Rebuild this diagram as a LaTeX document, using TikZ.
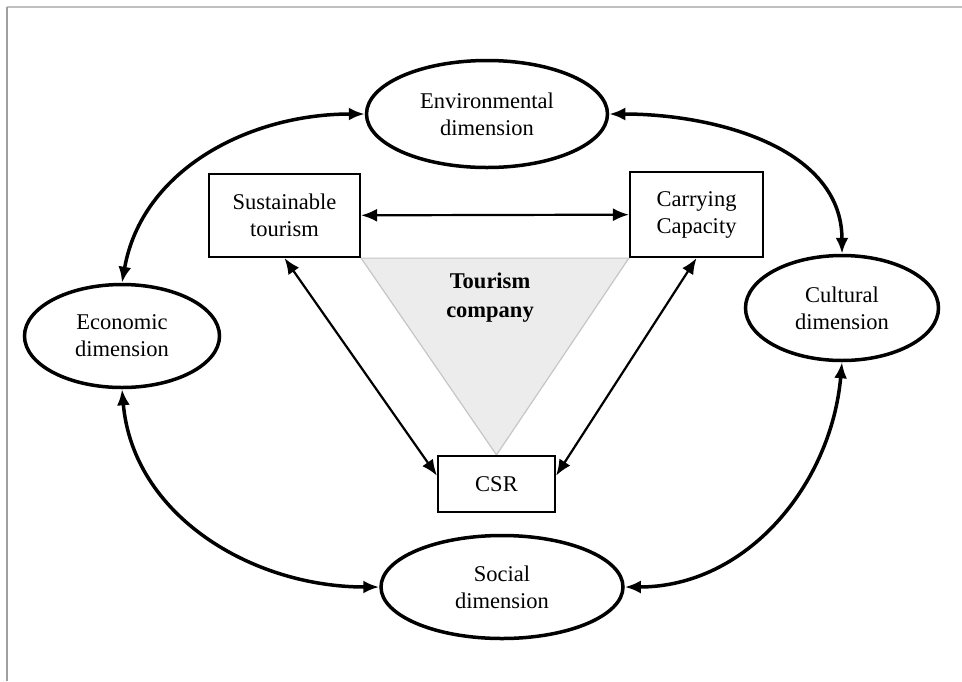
\documentclass[tikz,border=0pt]{standalone}
\usepackage{fontspec}
\setmainfont{Liberation Serif}
\usetikzlibrary{arrows.meta,shapes.geometric,backgrounds}

\begin{document}
\begin{tikzpicture}[x=1pt,y=-1pt,
                    >={Latex[length=16pt,width=13pt]},
                    font=\fontsize{22.5}{27}\selectfont,
                    dim node/.style={ellipse,draw,line width=3.5pt,align=center,inner sep=0pt},
                    box node/.style={rectangle,draw,line width=2.2pt,align=center,inner sep=0pt},
                    box link/.style={<->,line width=2.2pt},
                    dim link/.style={<->,line width=3.5pt}]
  \useasboundingbox (0,0) rectangle (962,681);
  % page frame
  \draw[gray!50,line width=2pt] (7,7) -- (962,7);
  \draw[gray!75,line width=2pt] (7,7) -- (7,681);

  \node[dim node,minimum width=241pt,minimum height=107pt] (env) at (487,114) {Environmental\\dimension};
  \node[dim node,minimum width=195pt,minimum height=103pt] (eco) at (122,336) {Economic\\dimension};
  \node[dim node,minimum width=193pt,minimum height=105pt] (cul) at (842,308) {Cultural\\dimension};
  \node[dim node,minimum width=242pt,minimum height=103pt] (soc) at (502,587) {Social\\dimension};

  \node[box node,minimum width=151pt,minimum height=83pt] (sus) at (284.5,215.5) {Sustainable\\tourism};
  \node[box node,minimum width=133pt,minimum height=85pt] (cap) at (696.5,214.5) {Carrying\\Capacity};
  \node[box node,minimum width=117pt,minimum height=56pt] (csr) at (496.5,484) {CSR};

  \begin{scope}[on background layer]
    \filldraw[fill=gray!15,draw=gray!45,line width=1.2pt] (sus.south east) -- (cap.south west) -- (csr.north) -- cycle;
  \end{scope}
  \node[font=\fontsize{22.5}{29}\selectfont\bfseries,align=center] (comp) at (490,298) {Tourism\\company};

  \draw[box link] (sus) -- (cap);
  \draw[box link] (sus.south) -- (csr.172);
  \draw[box link] (cap.south) -- (csr.8);

  \draw[dim link] (eco.north) to[out=80,in=180] (env.west);
  \draw[dim link] (env.east) to[out=0,in=90] (cul.north);
  \draw[dim link] (eco.south) to[out=-85,in=180] (soc.west);
  \draw[dim link] (cul.south) to[out=-95,in=0] (soc.east);
\end{tikzpicture}
\end{document}
